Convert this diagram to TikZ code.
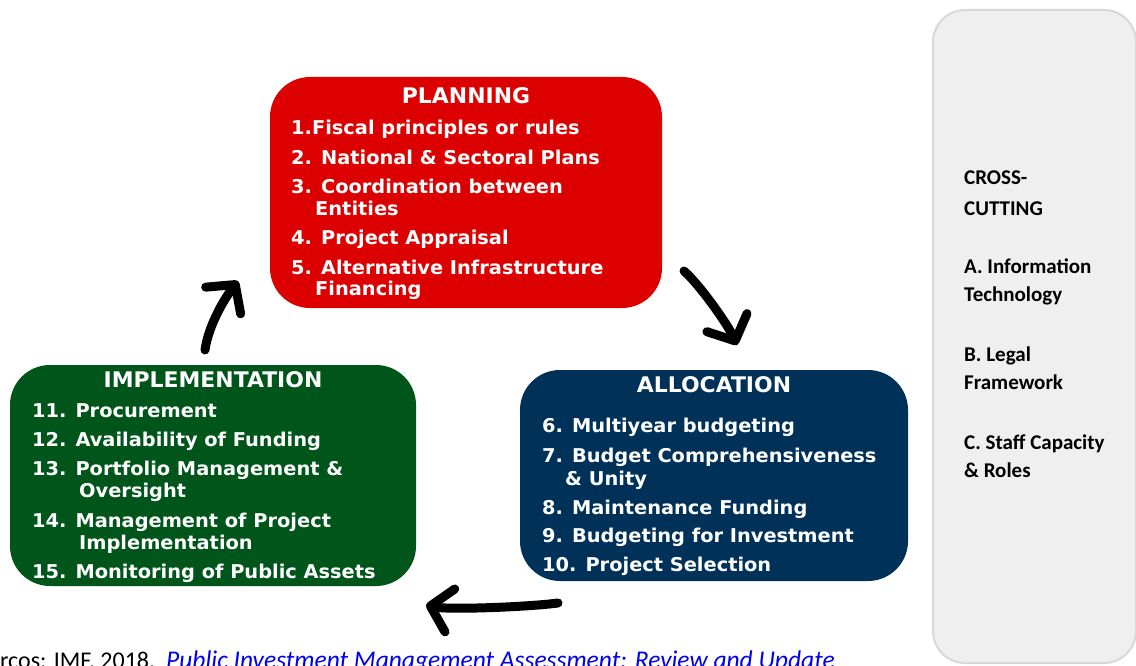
\documentclass[tikz,border=0pt]{standalone}
\usepackage{fontspec}
\usetikzlibrary{arrows.meta}
\newfontfamily\boxfont[FakeStretch=1.02]{DejaVu Sans Bold}
\newfontfamily\calfont{Carlito}
\definecolor{planred}{RGB}{221,0,0}
\definecolor{implgreen}{RGB}{0,86,26}
\definecolor{allocnavy}{RGB}{0,49,88}
\definecolor{panelfill}{RGB}{239,239,239}
\definecolor{panelline}{RGB}{216,216,216}
\definecolor{linkblue}{RGB}{0,0,238}
\tikzset{
  stagebox/.style={draw=none, rounded corners=40pt, inner sep=0pt},
  stagetitle/.style={text=white, font=\boxfont\fontsize{21.5}{25}\selectfont, anchor=base, inner sep=0pt},
  stageitem/.style={text=white, font=\boxfont\fontsize{19}{22}\selectfont, anchor=base west, inner sep=0pt},
  paneltext/.style={text=black, font=\calfont\bfseries\fontsize{21}{25}\selectfont, anchor=base west, inner sep=0pt},
  bigarrow/.style={line width=9pt, line cap=round, -{Straight Barb[length=20pt, width=44pt, round]}},
}
\begin{document}
\begin{tikzpicture}[x=1pt, y=-1pt]
\useasboundingbox (0,0) rectangle (1136,666);
\fill[white] (0,0) rectangle (1136,666);

% cross-cutting panel
\node[draw=panelline, fill=panelfill, line width=2pt, rounded corners=32pt,
      minimum width=203pt, minimum height=653pt, inner sep=0pt] (panel) at (1034.5,336.5) {};
\foreach \yy/\tt [count=\i] in {185/{CROSS-}, 215/{CUTTING}, 273/{A. Information}, 301/{Technology},
   361/{B. Legal}, 389/{Framework}, 449/{C. Staff Capacity}, 477/{\& Roles}}
  \node[paneltext] (cc\i) at (964,\yy) {\tt};

% planning
\node[stagebox, fill=planred, minimum width=392pt, minimum height=231pt] (plan) at (466,192.5) {};
\node[stagetitle] (plantitle) at (466,103.5) {PLANNING};
\foreach \yy/\xx/\tt [count=\i] in {135/291/{1.Fiscal principles or rules},
   164.5/291/{2. National \& Sectoral Plans},
   193.5/291/{3. Coordination between},
   215.5/315/{Entities},
   244.5/291/{4. Project Appraisal},
   274.5/291/{5. Alternative Infrastructure},
   295.5/315/{Financing}}
  \node[stageitem] (pl\i) at (\xx,\yy) {\tt};

% allocation
\node[stagebox, fill=allocnavy, minimum width=388pt, minimum height=211pt] (alloc) at (714,475.5) {};
\node[stagetitle] (alloctitle) at (714,392) {ALLOCATION};
\foreach \yy/\xx/\tt [count=\i] in {432/542/{6. Multiyear budgeting},
   462/542/{7. Budget Comprehensiveness},
   485/565/{\& Unity},
   514/542/{8. Maintenance Funding},
   542.5/542/{9. Budgeting for Investment},
   571.5/542/{10. Project Selection}}
  \node[stageitem] (al\i) at (\xx,\yy) {\tt};

% implementation
\node[stagebox, fill=implgreen, minimum width=406pt, minimum height=221pt] (impl) at (213,475.5) {};
\node[stagetitle] (impltitle) at (213,387) {IMPLEMENTATION};
\foreach \yy/\xx/\tt [count=\i] in {417.5/32/{11. Procurement},
   446.5/32/{12. Availability of Funding},
   475.5/32/{13. Portfolio Management \&},
   497.5/79/{Oversight},
   527.5/32/{14. Management of Project},
   549.5/79/{Implementation},
   578.5/32/{15. Monitoring of Public Assets}}
  \node[stageitem] (im\i) at (\xx,\yy) {\tt};

% arrows
\coordinate (a1s) at (205,350);
\coordinate (a1e) at (238,281);
\coordinate (a2s) at (684,271);
\coordinate (a2e) at (737,345);
\coordinate (a3s) at (558,603);
\coordinate (a3e) at (426,605);
\draw[bigarrow] (a1s) .. controls (208,328) and (222,302) .. (a1e);
\draw[bigarrow] (a2s) .. controls (700,285) and (728,325) .. (a2e);
\draw[bigarrow] (a3s) .. controls (528,607) and (448,610) .. (a3e);

% source line
\node[font=\calfont\fontsize{24}{28}\selectfont, anchor=base west, inner sep=0pt] (src) at (0,668) {rcos: IMF, 2018,};
\node[font=\calfont\itshape\fontsize{25.5}{30}\selectfont, text=linkblue, anchor=base west, inner sep=0pt] (ref) at (166,668) {Public Investment Management Assessment: Review and Update};
\end{tikzpicture}
\end{document}
